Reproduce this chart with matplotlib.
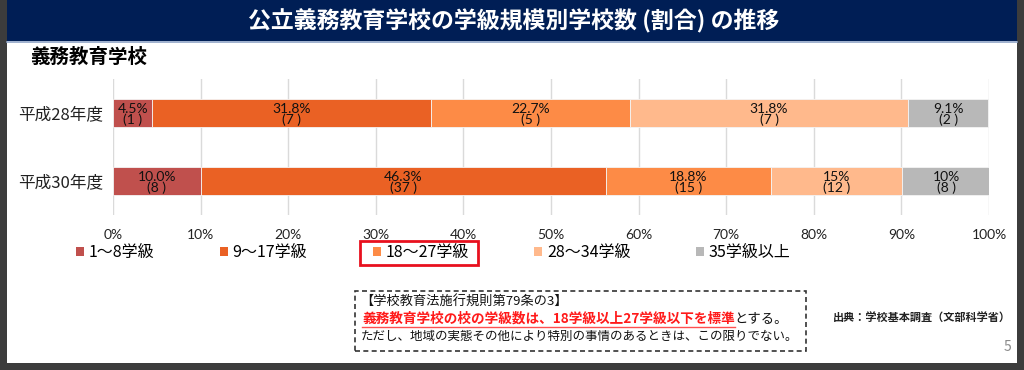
import matplotlib
matplotlib.use('Agg')
import matplotlib.pyplot as plt
from matplotlib.patches import Rectangle, Patch
from matplotlib.lines import Line2D
import numpy as np

plt.rcParams['font.family'] = ['Noto Sans CJK JP', 'DejaVu Sans']

# data
years = ['平成28年度', '平成30年度']
classes = ['1～8学級', '9～17学級', '18～27学級', '28～34学級', '35学級以上']
pct_h28 = [4.5, 31.8, 22.7, 31.8, 9.1]
pct_h30 = [10.0, 46.3, 18.8, 15.0, 10.0]
lbl_h28 = ['4.5%', '31.8%', '22.7%', '31.8%', '9.1%']
lbl_h30 = ['10.0%', '46.3%', '18.8%', '15%', '10%']
cnt_h28 = [1, 7, 5, 7, 2]
cnt_h30 = [8, 37, 15, 12, 8]
colors = ['#C0504D', '#EA6124', '#FD8B46', '#FFB98C', '#B8B8B8']

W, H = 1024, 370


def fx(x):
    return x / W


def fy(y):
    return 1 - y / H


fig = plt.figure(figsize=(W / 100, H / 100), dpi=100)
fig.patch.set_facecolor('#3C3C3C')

# slide background, header band
fig.patches.append(Rectangle((fx(7), fy(363)), fx(1017) - fx(7), fy(0) - fy(363),
                             transform=fig.transFigure, facecolor='white', edgecolor='none', zorder=-10))
fig.patches.append(Rectangle((fx(7), fy(41)), fx(1017) - fx(7), fy(0) - fy(41),
                             transform=fig.transFigure, facecolor='#001E55', edgecolor='none', zorder=-9))
fig.lines.append(Line2D([fx(7), fx(1017)], [fy(41.5), fy(41.5)], transform=fig.transFigure,
                        color='#8FA3C6', lw=1.2, zorder=-8))

fig.text(fx(514), fy(21), '公立義務教育学校の学級規模別学校数 (割合) の推移', color='white',
         fontsize=16.5, fontweight='bold', ha='center', va='center')
fig.text(fx(30), fy(57), '義務教育学校', fontsize=14, fontweight='bold', ha='left', va='center')

ax = fig.add_axes([fx(113), fy(215), fx(989) - fx(113), fy(79) - fy(215)])
ax.set_facecolor('none')

rows = [pct_h28, pct_h30]
labels = [lbl_h28, lbl_h30]
counts = [cnt_h28, cnt_h30]
ypos = np.arange(len(years))

handles = []
for j in range(len(classes)):
    vals = np.array([r[j] for r in rows])
    left = np.array([sum(r[:j]) for r in rows])
    bars = ax.barh(ypos, vals, left=left, height=0.41, color=colors[j],
                   edgecolor='#F4F4F4', linewidth=0.6, zorder=3)
    handles.append(Patch(facecolor=colors[j], edgecolor='none', label=classes[j]))
    for i, b in enumerate(bars):
        cx = b.get_x() + b.get_width() / 2
        ax.text(cx, ypos[i] + 0.02, f'{labels[i][j]}\n({counts[i][j]} )', ha='center', va='center',
                fontsize=10, family='Lato', color='#111111', linespacing=0.8, zorder=4)

ax.set_xlim(0, 100)
ax.set_ylim(1.5, -0.5)
ax.set_xticks(np.arange(0, 101, 10))
ax.set_xticklabels([f'{v}%' for v in range(0, 101, 10)], family='Lato', fontsize=10, color='#222222')
ax.set_yticks(ypos)
ax.set_yticklabels(years, fontsize=12, color='#222222')
ax.tick_params(axis='x', length=0, pad=10)
ax.tick_params(axis='y', length=0, pad=7)
ax.grid(axis='x', color='#DADADA', lw=1, zorder=0)
for s in ax.spines.values():
    s.set_visible(False)

leg = fig.legend(handles=handles, loc='center left', bbox_to_anchor=(fx(76), fy(253)),
                 ncol=5, frameon=False, fontsize=11.5, handlelength=0.5, handleheight=0.5,
                 handletextpad=0.3, columnspacing=4.1, borderpad=0, borderaxespad=0)

# dashed note box
fig.patches.append(Rectangle((fx(355), fy(351)), fx(806) - fx(355), fy(291) - fy(351),
                             transform=fig.transFigure, facecolor='none', edgecolor='#333333',
                             lw=1.2, linestyle=(0, (3, 2)), zorder=3))
fig.text(fx(360), fy(302), '【学校教育法施行規則第79条の3】', fontsize=9.5, ha='left', va='center', color='#111111')
red = fig.text(fx(362), fy(319), '義務教育学校の校の学級数は、18学級以上27学級以下を標準', fontsize=9.8,
               fontweight='bold', color='#FF1A1A', ha='left', va='center')
fig.text(fx(361), fy(336), 'ただし、地域の実態その他により特別の事情のあるときは、この限りでない。',
         fontsize=9, ha='left', va='center', color='#111111')
fig.text(fx(1011), fy(318), '出典：学校基本調査（文部科学省）', fontsize=8, fontweight='bold',
         ha='right', va='center', color='#222222')
fig.text(fx(1007), fy(347), '5', fontsize=10, ha='center', va='center', color='#8A8A8A')

fig.canvas.draw()
r = fig.canvas.get_renderer()
rb = red.get_window_extent(r)
fig.text(fx(rb.x1), fy(319), 'とする。', fontsize=9.6, ha='left', va='center', color='#111111')
fig.lines.append(Line2D([rb.x0 / W, rb.x1 / W], [(rb.y0 - 1) / H, (rb.y0 - 1) / H],
                        transform=fig.transFigure, color='#FF5050', lw=1))

# red box around the 18-27 legend entry
tb = leg.get_texts()[2].get_window_extent(r)
hb = leg.legend_handles[2].get_window_extent(r)
x0, x1 = hb.x0 - 13, tb.x1 + 9
yc = (tb.y0 + tb.y1) / 2
fig.patches.append(Rectangle((x0 / W, (yc - 12) / H), (x1 - x0) / W, 24 / H,
                             transform=fig.transFigure, facecolor='none', edgecolor='#E8101E', lw=2, zorder=5))

fig.savefig('out.png', dpi=100)
